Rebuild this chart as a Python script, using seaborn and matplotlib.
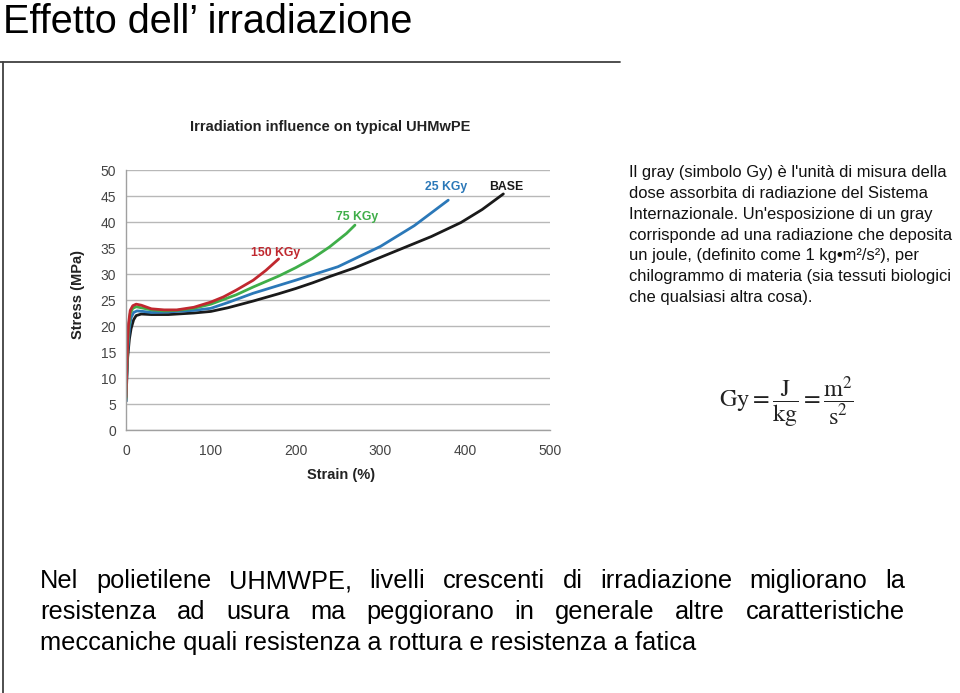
import matplotlib
matplotlib.use("Agg")
import matplotlib.pyplot as plt
import seaborn as sns
import pandas as pd
from matplotlib.lines import Line2D

# ---------------- data ----------------
base_strain = [0, 1, 2, 4, 6, 9, 12, 18, 30, 50, 80, 100, 120, 150, 180, 200, 220, 240, 270, 300, 330, 360, 395, 420, 445]
base_stress = [5.5, 10, 14, 17.5, 19.5, 21.2, 22.0, 22.3, 22.2, 22.2, 22.5, 22.8, 23.5, 24.8, 26.2, 27.2, 28.3, 29.5, 31.2, 33.2, 35.2, 37.2, 39.9, 42.4, 45.4]

kgy25_strain = [0, 1, 2, 4, 6, 9, 13, 20, 30, 50, 80, 100, 120, 150, 180, 200, 250, 300, 340, 380]
kgy25_stress = [5.5, 11, 15, 19.5, 21.6, 22.6, 22.9, 22.8, 22.6, 22.7, 23.0, 23.4, 24.5, 26.3, 27.8, 28.8, 31.4, 35.3, 39.3, 44.2]

kgy75_strain = [0, 1, 2, 3, 5, 8, 12, 18, 30, 45, 60, 80, 100, 130, 150, 180, 200, 220, 240, 260, 270]
kgy75_stress = [6.0, 11.5, 16, 19.5, 22.4, 23.4, 23.7, 23.5, 23.1, 22.9, 23.0, 23.4, 24.2, 26.0, 27.5, 29.6, 31.2, 33.0, 35.2, 37.8, 39.4]

kgy150_strain = [0, 1, 2, 3, 5, 8, 12, 18, 30, 45, 60, 80, 100, 115, 130, 150, 165, 180]
kgy150_stress = [6.3, 12, 17, 20.5, 23.0, 23.9, 24.2, 24.0, 23.3, 23.1, 23.1, 23.6, 24.6, 25.6, 26.9, 28.8, 30.7, 32.9]

series_names = ["BASE", "25 KGy", "75 KGy", "150 KGy"]
series_colors = ["#1a1a1a", "#2b78b8", "#3fae49", "#c0282f"]
label_pos = [(448, 46.8), (377, 46.7), (272, 41.0), (176, 34.0)]

x_ticks = [0, 100, 200, 300, 400, 500]
y_ticks = [0, 5, 10, 15, 20, 25, 30, 35, 40, 45, 50]

slide_title = "Effetto dell\u2019 irradiazione"
side_lines = [
    "Il gray (simbolo Gy) è l'unità di misura della",
    "dose assorbita di radiazione del Sistema",
    "Internazionale. Un'esposizione di un gray",
    "corrisponde ad una radiazione che deposita",
    "un joule, (definito come 1 kg\u2022m\u00b2/s\u00b2), per",
    "chilogrammo di materia (sia tessuti biologici",
    "che qualsiasi altra cosa).",
]
bottom_lines = [
    "Nel polietilene UHMWPE, livelli crescenti di irradiazione migliorano la",
    "resistenza ad usura ma peggiorano in generale altre caratteristiche",
    "meccaniche quali resistenza a rottura e resistenza a fatica",
]

# ---------------- frame ----------------
frames = []
for name, s, v in [("BASE", base_strain, base_stress), ("25 KGy", kgy25_strain, kgy25_stress),
                   ("75 KGy", kgy75_strain, kgy75_stress), ("150 KGy", kgy150_strain, kgy150_stress)]:
    frames.append(pd.DataFrame({"strain": s, "stress": v, "series": name}))
df = pd.concat(frames, ignore_index=True)

sns.set_style("white")
plt.rcParams["font.family"] = ["Liberation Sans", "DejaVu Sans"]
plt.rcParams["mathtext.fontset"] = "stix"

W, H = 960, 693
fig = plt.figure(figsize=(W / 100, H / 100), dpi=100)

def fx(px):
    return px / W

def fy(py):
    return 1 - py / H

ax = fig.add_axes([fx(126), fy(430), fx(550) - fx(126), fy(170) - fy(430)])
sns.lineplot(data=df, x="strain", y="stress", hue="series", hue_order=series_names,
             palette=dict(zip(series_names, series_colors)), sort=False, estimator=None,
             linewidth=2.0, legend=False, ax=ax)
ax.set_xlim(0, 500)
ax.set_ylim(0, 50)
ax.set_xticks(x_ticks)
ax.set_yticks(y_ticks)
ax.grid(axis="y", color="#b8b8b8", linewidth=1.0)
ax.grid(axis="x", visible=False)
for sp in ["top", "right"]:
    ax.spines[sp].set_visible(False)
for sp in ["left", "bottom"]:
    ax.spines[sp].set_color("#a0a0a0")
    ax.spines[sp].set_linewidth(1.0)
ax.tick_params(axis="both", length=0, labelsize=10, colors="#444444")
ax.tick_params(axis="y", pad=7)
ax.tick_params(axis="x", pad=10)
ax.set_xlabel("")
ax.set_ylabel("")
for name, col, (lx, ly) in zip(series_names, series_colors, label_pos):
    ax.text(lx, ly, name, color=col, fontsize=8.8, fontweight="bold", ha="center", va="center")

fig.text(fx(330), fy(127), "Irradiation influence on typical UHMwPE", fontsize=10.5,
         fontweight="bold", color="#222222", ha="center", va="center")
fig.text(fx(78), fy(294), "Stress (MPa)", fontsize=10.5, fontweight="bold", color="#222222",
         rotation=90, ha="center", va="center")
fig.text(fx(341), fy(475), "Strain (%)", fontsize=10.5, fontweight="bold", color="#222222",
         ha="center", va="center")

# slide decoration
fig.add_artist(Line2D([fx(0), fx(620)], [fy(62), fy(62)], color="#404040", linewidth=1.3))
fig.add_artist(Line2D([fx(2.5), fx(2.5)], [fy(62), fy(693)], color="#404040", linewidth=1.3))

fig.text(fx(3), fy(33), slide_title, fontsize=28.5, color="black", ha="left", va="baseline")

for i, line in enumerate(side_lines):
    fig.text(fx(629), fy(173 + i * 20.7), line, fontsize=11.9, color="#111111", ha="left", va="center")

fig.text(fx(786), fy(402), r"$\mathrm{Gy}=\dfrac{\mathrm{J}}{\mathrm{kg}}=\dfrac{\mathrm{m}^2}{\mathrm{s}^2}$",
         fontsize=17.5, color="#222222", ha="center", va="center")

# justified bottom paragraph
fig.canvas.draw()
renderer = fig.canvas.get_renderer()
left_px, right_px = 40, 905
bfs = 18.3
for i, line in enumerate(bottom_lines):
    y = fy(588 + i * 31)
    if i == len(bottom_lines) - 1:
        fig.text(fx(left_px), y, line, fontsize=bfs, color="black", ha="left", va="baseline")
        continue
    words = line.split(" ")
    texts = [fig.text(0, y, w, fontsize=bfs, color="black", ha="left", va="baseline") for w in words]
    widths = [t.get_window_extent(renderer).width for t in texts]
    gap = (right_px - left_px - sum(widths)) / (len(words) - 1)
    xcur = left_px
    for t, w in zip(texts, widths):
        t.set_x(fx(xcur))
        xcur += w + gap

fig.savefig("out.png", dpi=100)
